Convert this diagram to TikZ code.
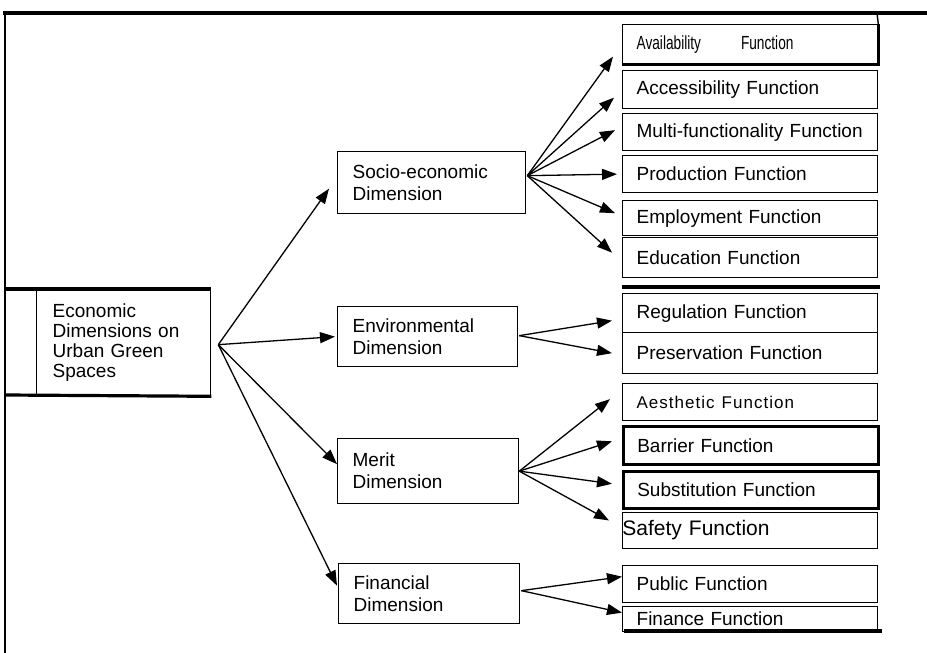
\documentclass[tikz,border=0pt]{standalone}
\usepackage{fontspec}
\setmainfont{Liberation Sans}
\newfontfamily\narrowfont[FakeStretch=0.72]{Liberation Sans}
\newfontfamily\spacedfont[LetterSpace=6]{Liberation Sans}
\usetikzlibrary{arrows.meta,calc}
\begin{document}
\begin{tikzpicture}[x=1pt,y=-1pt,
  box/.style={draw, line width=1.3pt, anchor=north west, inner ysep=0pt, align=left, font=\fontsize{19}{22}\selectfont},
  dimbox/.style={box, inner xsep=15pt},
  funcbox/.style={box, inner xsep=14pt, text width=227pt, minimum width=255pt},
  arr/.style={line width=1.3pt, -{Triangle[length=15pt,width=11pt]}},
  heavy/.style={line width=3.2pt}
]
\useasboundingbox (0,0) rectangle (927,653);

% root and dimension boxes
\node[dimbox, inner xsep=16pt, text width=142pt, minimum height=106pt, font=\fontsize{19}{20}\selectfont] (root) at (36,289) {Economic\\Dimensions on\\Urban Green\\Spaces};
\node[dimbox, text width=158pt, minimum height=62pt] (soc) at (337,151) {Socio-economic\\Dimension};
\node[dimbox, text width=150pt, minimum height=60pt] (env) at (337,306) {Environmental\\Dimension};
\node[dimbox, text width=151pt, minimum height=65pt] (merit) at (337,438) {Merit\\Dimension};
\node[dimbox, text width=151pt, minimum height=60pt] (fin) at (338,563) {Financial\\Dimension};

% function boxes
\node[funcbox, minimum height=39pt, font=\fontsize{19}{20}\narrowfont] (avail) at (622,24) {Availability\hspace{40pt}Function};
\node[funcbox, minimum height=38pt] (access) at (622,70) {Accessibility Function};
\node[funcbox, minimum height=37pt] (multi) at (622,113) {Multi-functionality Function};
\node[funcbox, minimum height=37pt] (prod) at (622,155) {Production Function};
\node[funcbox, minimum height=35pt] (employ) at (622,200) {Employment Function};
\node[funcbox, minimum height=40pt] (edu) at (622,237) {Education Function};
\node[funcbox, minimum height=39pt] (reg) at (622,293) {Regulation Function};
\node[funcbox, minimum height=41pt] (pres) at (622,332) {Preservation Function};
\node[funcbox, minimum height=37pt, font=\fontsize{17}{19}\spacedfont] (aes) at (622,383) {Aesthetic\hspace{7pt}Function};
\node[funcbox, minimum height=38pt, line width=2.6pt] (barrier) at (622,425) {Barrier Function};
\node[funcbox, minimum height=37pt, line width=2.6pt] (subst) at (622,470) {Substitution Function};
\node[funcbox, minimum height=36pt, line width=0.9pt, inner xsep=0pt, text width=255pt, font=\fontsize{21}{24}\selectfont] (safety) at (622,512) {Safety Function};
\node[funcbox, minimum height=37pt] (public) at (622,565) {Public Function};
\node[funcbox, minimum height=25pt] (finance) at (622,606) {Finance Function};

% frame and heavy rules
\draw[heavy] (3,13) -- (927,13);
\draw[line width=1.8pt] (5,13) -- (5,653);
\draw[line width=1.4pt] (877,13) -- (avail.north east);
\draw[heavy] (avail.north east) -- (avail.south east) -- (avail.south west);
\draw[heavy] (5,289) -- (root.north east);
\draw[heavy] (5,395) -- (root.south east);
\draw[heavy] (622,287) -- (880,287);
\draw[heavy] (624,631) -- (882,631);

% arrows from root
\coordinate (rs) at ($(root.east)+(7,2)$);
\draw[arr] (rs) -- ($(soc.west)+(-8,6)$);
\draw[arr] (rs) -- ($(env.west)+(-2,0)$);
\draw[arr] (rs) -- ($(merit.west)+(0,-7)$);
\draw[arr] (rs) -- ($(fin.west)+(-1,-8)$);

% socio-economic arrows
\coordinate (ss) at ($(soc.east)+(1,-7)$);
\draw[arr] (ss) -- ($(avail.west)+(-9,12.5)$);
\draw[arr] (ss) -- ($(access.west)+(-8,8)$);
\draw[arr] (ss) -- ($(multi.west)+(-7,-2)$);
\draw[arr] (ss) -- ($(prod.west)+(-5,0)$);
\draw[arr] (ss) -- ($(employ.west)+(-7,-5)$);
\draw[arr] (ss) -- ($(edu.west)+(-10,-5)$);

% environmental arrows
\coordinate (es) at ($(env.east)+(1,-1)$);
\draw[arr] (es) -- ($(reg.west)+(-10,7.5)$);
\draw[arr] (es) -- ($(pres.west)+(-10,0)$);

% merit arrows
\coordinate (ms) at (merit.east);
\draw[arr] (ms) -- ($(aes.west)+(-12,-3)$);
\draw[arr] (ms) -- ($(barrier.west)+(-10,-4)$);
\draw[arr] (ms) -- ($(subst.west)+(-10,-6)$);
\draw[arr] (ms) -- ($(safety.west)+(-13,-10)$);

% financial arrows
\coordinate (fs) at ($(fin.east)+(1,-3)$);
\draw[arr] (fs) -- ($(public.west)+(0,-7.5)$);
\draw[arr] (fs) -- ($(finance.west)+(0,-6.5)$);
\end{tikzpicture}
\end{document}
